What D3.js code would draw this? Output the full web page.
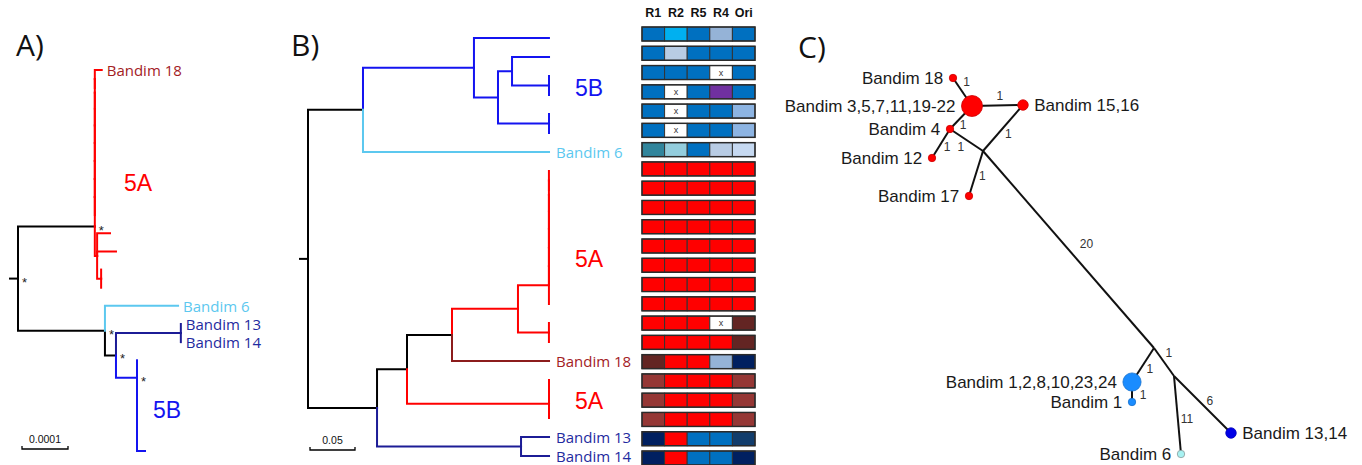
<!DOCTYPE html>
<html><head><meta charset="utf-8">
<script src="https://cdn.jsdelivr.net/npm/d3@7"></script>
<style>body{margin:0;background:#fff}svg{display:block}</style>
</head><body>
<svg id="c" width="1362" height="465"></svg>
<script>
// ================= DATA =================
// Panel A tree (branch lengths in substitutions/site); "*" = support, "k" = stem drawn uncoloured
const newickA = "(" + "(" +
  "((((((((Bandim_18:0.000015,r1:0):0,r2:0):0,r3:0):0,r4:0):0,r5:0):0,r6:0):0,r7:0):0,r8:0)" +
  ":0,(s1:0.000028,s2:0.000041,(s3:0,s4:0):0.0000087):0.000005)*k:0.000167," +
  "(Bandim_6:0.000159,((Bandim_13:0,Bandim_14:0):0.000141,(p1:0,(p2:0,(p3:0,(p4:0,(p5:0,p6:0.0000174):0):0):0):0)*:0.0000457)*:0.000024)*:0.000189" +
  ")*;";
// Panel B tree
const newickB = "(" +
  "((b1:0.0833,((b2:0.0411,(b3:0,b4:0):0.0411):0.0156,(b5:0,b6:0):0.0567):0.0267):0.1233,Bandim_6:0.2067):0.0611," +
  "((((" + "(((((((a1:0,a2:0):0,a3:0):0,a4:0):0,a5:0):0,a6:0):0,a7:0):0,a8:0)" +
  ":0.0344,(a9:0,a10:0):0.0344):0.0733,Bandim_18:0.1078):0.05,((a11:0,a12:0):0,a13:0):0.1578):0.0333," +
  "(Bandim_13:0.0311,Bandim_14:0.0311):0.16):0.0767" +
  ");";

const groupsA = {Bandim_18:"5A", r:"5A", s:"5A", Bandim_6:"b6", Bandim_13:"b1314", Bandim_14:"b1314", p:"5B"};
const groupsB = {a:"5A", b:"5B", Bandim_6:"b6", Bandim_18:"b18", Bandim_13:"b1314", Bandim_14:"b1314"};
const groupColors = {"5A":"#ff0000", "5B":"#1414f0", "b6":"#5cc8ef", "b18":"#8c1c1c", "b1314":"#1c1c96"};
const labelColors = {"Bandim 18":"#a3211f", "Bandim 6":"#5cc8ef", "Bandim 13":"#1f2ba0", "Bandim 14":"#1f2ba0"};

const cladeLabelsA = [["5A","Bandim_18","s4","5A"],["5B","p1","p6","5B"]];
const cladeLabelsB = [["5B","b1","b6","5B"],["5A","a1","a10","5A"],["5A","a11","a13","5A"]];

const scaleBarA = 0.0001;
const scaleBarB = 0.05;

// Panel B heatmap
const hmColumns = ["R1","R2","R5","R4","Ori"];
const hmRows = [
 "B C B L B",
 "B P B B B",
 "B B B X B",
 "B X B V B",
 "B X B B K",
 "B X B B K",
 "T A B S W",
 "R R R R R",
 "R R R R R",
 "R R R R R",
 "R R R R R",
 "R R R R R",
 "R R R R R",
 "R R R R R",
 "R R R R R",
 "R R R X D",
 "R R R R D",
 "D R R L N",
 "M R R R M",
 "M R R R M",
 "M R R R M",
 "N R B B O",
 "N R B B N"
];
const hmPalette = {B:"#0070c0", C:"#00b0f0", L:"#95b3d7", P:"#b8cce4", X:"#ffffff", V:"#7030a0",
  K:"#8db4e2", T:"#31859c", A:"#93cddd", S:"#b8cce4", W:"#c6d9f1", R:"#ff0000", D:"#632523",
  M:"#953735", N:"#002060", O:"#123d6c"};

// Panel C haplotype network (layout units)
const netNodes = [
 {id:"hub",   label:"Bandim 3,5,7,11,19-22", n:8, kind:"5A",  side:-1, u:53,     v:16.5},
 {id:"b18",   label:"Bandim 18",             n:1, kind:"5A",  side:-1, u:48.25,  v:9.5},
 {id:"b1516", label:"Bandim 15,16",          n:2, kind:"5A",  side:1,  u:65.75,  v:16.25},
 {id:"b4",    label:"Bandim 4",              n:1, kind:"5A",  side:-1, u:47.5,   v:22.25},
 {id:"b12",   label:"Bandim 12",             n:1, kind:"5A",  side:-1, u:43,     v:29.5},
 {id:"j1",    label:"",                      n:0, kind:"",    side:0,  u:55.75,  v:27.75},
 {id:"b17",   label:"Bandim 17",             n:1, kind:"5A",  side:-1, u:52.25,  v:39},
 {id:"j2",    label:"",                      n:0, kind:"",    side:0,  u:98.5,   v:77},
 {id:"j3",    label:"",                      n:0, kind:"",    side:0,  u:103.5,  v:84},
 {id:"b1x",   label:"Bandim 1,2,8,10,23,24", n:6, kind:"5B",  side:-1, u:93,     v:85.5},
 {id:"b1",    label:"Bandim 1",              n:1, kind:"5B",  side:-1, u:93,     v:90.5},
 {id:"b1314", label:"Bandim 13,14",          n:2, kind:"b1314", side:1, u:117.75, v:98.25},
 {id:"b6",    label:"Bandim 6",              n:1, kind:"b6",  side:-1, u:105.25, v:103.5}
];
// [from, to, mutations, label position along edge, side offset]
const netEdges = [
 ["hub","b18","1",0.67,9],
 ["hub","b1516","1",0.55,-9],
 ["hub","b4","1",0.63,-7],
 ["b4","b12","1",0.49,-7],
 ["b4","j1","1",0.48,9],
 ["b1516","j1","1",0.52,-8],
 ["j1","b17","1",0.52,-7],
 ["j1","j2","20",0.53,-17],
 ["j2","b1x","1",0.49,-8],
 ["b1x","b1","1",0.65,-11],
 ["j2","j3","1",0.37,-9],
 ["j3","b1314","6",0.53,-8],
 ["j3","b6","11",0.56,-9]
];
const netColors = {"5A":"#ff0000", "5B":"#1a8cff", "b1314":"#0000e6", "b6":"#a8f2f2"};

// ================= DRAWING =================
const svg = d3.select("#c");
const TREE_FONT = "'Open Sans', sans-serif";
const ARIAL = "'Liberation Sans', Arial, sans-serif";

function parseNewick(s){
  let i = 0;
  const stop = ":,();";
  function node(){
    const n = {children:[], name:"", len:0, support:""};
    if (s[i] === "("){
      i++;
      n.children.push(node());
      while (s[i] === ","){ i++; n.children.push(node()); }
      i++;
      let lab = ""; while (i < s.length && !stop.includes(s[i])) lab += s[i++];
      n.support = lab;
    } else {
      let nm = ""; while (i < s.length && !stop.includes(s[i])) nm += s[i++];
      n.name = nm;
    }
    if (s[i] === ":"){ i++; let num = ""; while (i < s.length && !",();".includes(s[i])) num += s[i++]; n.len = +num; }
    return n;
  }
  return node();
}

function layoutTree(str, groups){
  const root = d3.hierarchy(parseNewick(str), d => d.children.length ? d.children : null);
  root.eachBefore(n => { n.dist = n.parent ? n.parent.dist + n.data.len : 0; });
  let row = 0;
  root.eachAfter(n => {
    if (!n.children){
      n.row = row++;
      n.grp = groups[n.data.name] || groups[n.data.name[0]];
    } else {
      n.row = (n.children[0].row + n.children[n.children.length-1].row) / 2;
      const g0 = n.children[0].grp;
      n.grp = n.children.every(c => c.grp && c.grp === g0) ? g0 : null;
    }
    n.stemColor = (n.grp && !n.data.support.includes("k")) ? groupColors[n.grp] : "#000";
  });
  return root;
}

function drawTree(g, root, xs, ys, opts){
  const links = root.descendants().filter(n => n.parent);
  links.sort((a,b) => (a.stemColor === "#000" ? 0 : 1) - (b.stemColor === "#000" ? 0 : 1));
  g.selectAll("path.br").data(links).join("path").attr("class","br")
    .attr("d", n => `M${xs(n.parent.dist)},${ys(n.parent.row)}V${ys(n.row)}H${xs(n.dist)}`)
    .attr("fill","none")
    .attr("stroke", n => n.stemColor)
    .attr("stroke-width", 2).attr("stroke-linecap","square");
  g.append("path").attr("d", `M${xs(0)-9},${ys(root.row)}H${xs(0)}`)
    .attr("stroke","#000").attr("stroke-width",2);
  const leaves = root.leaves().filter(n => n.data.name.startsWith("Bandim"));
  g.selectAll("text.lf").data(leaves).join("text").attr("class","lf")
    .attr("x", n => xs(n.dist) + opts.labelGap).attr("y", n => ys(n.row))
    .attr("dominant-baseline","central")
    .attr("font-family", TREE_FONT).attr("font-size", 15)
    .attr("fill", n => labelColors[n.data.name.replace("_"," ")])
    .text(n => n.data.name.replace("_"," "));
  const sup = root.descendants().filter(n => n.data.support.includes("*"));
  g.selectAll("text.st").data(sup).join("text").attr("class","st")
    .attr("x", n => xs(n.dist) + 4).attr("y", n => ys(n.row) + 8)
    .attr("font-family", ARIAL).attr("font-size", 13).attr("fill","#222")
    .text("*");
  const all = root.leaves();
  opts.clades.forEach(([txt, from, to, grp]) => {
    const i0 = all.findIndex(n => n.data.name === from);
    const i1 = all.findIndex(n => n.data.name === to);
    if (i0 < 0 || i1 < 0) return;
    const seg = all.slice(i0, i1 + 1);
    const x = d3.max(seg, n => xs(n.dist)) + opts.cladeGap;
    const y = (ys(seg[0].row) + ys(seg[seg.length-1].row)) / 2 + opts.cladeDy;
    g.append("text").attr("x", x).attr("y", y).attr("dominant-baseline","central")
      .attr("font-family", ARIAL).attr("font-size", 23).attr("fill", groupColors[grp]).text(txt);
  });
  const sb = opts.scaleBar;
  const x0 = opts.sbX, x1 = x0 + (xs(sb) - xs(0));
  g.append("path").attr("d", `M${x0},${opts.sbY-3}V${opts.sbY}H${x1}V${opts.sbY-3}`)
    .attr("fill","none").attr("stroke","#000").attr("stroke-width",1.3);
  g.append("text").attr("x", (x0+x1)/2).attr("y", opts.sbY-6).attr("text-anchor","middle")
    .attr("font-family", ARIAL).attr("font-size", 10.5).attr("fill","#111").text(String(sb));
}

[["A)",16,56],["B)",291,56],["C)",798,58]].forEach(([t,x,y]) =>
  svg.append("text").attr("x",x).attr("y",y).attr("font-family",TREE_FONT)
     .attr("font-size",30).attr("fill","#111").text(t));

// ---- Panel A ----
const rootA = layoutTree(newickA, groupsA);
const xA = d3.scaleLinear().domain([0, scaleBarA]).range([18, 64]);
const yA = d3.scaleLinear().domain([0, rootA.leaves().length - 1]).range([70, 451]);
drawTree(svg.append("g"), rootA, xA, yA,
  {labelGap:5, clades:cladeLabelsA, cladeGap:8, cladeDy:4, scaleBar:scaleBarA, sbX:22, sbY:449});

// ---- Panel B ----
const rootB = layoutTree(newickB, groupsB);
const xB = d3.scaleLinear().domain([0, scaleBarB]).range([308, 353]);
const yB = d3.scaleLinear().domain([0, rootB.leaves().length - 1]).range([38, 456]);
drawTree(svg.append("g"), rootB, xB, yB,
  {labelGap:7, clades:cladeLabelsB, cladeGap:26, cladeDy:2, scaleBar:scaleBarB, sbX:310, sbY:450});

// ---- Heatmap ----
const hx = d3.scaleBand().domain(hmColumns).range([642, 755]);
const hy = d3.scaleLinear().domain([0, hmRows.length - 1]).range([34, 458]);
const hm = svg.append("g");
hm.selectAll("text.hd").data(hmColumns).join("text").attr("class","hd")
  .attr("x", c => hx(c) + hx.bandwidth()/2).attr("y", 17).attr("text-anchor","middle")
  .attr("font-family", ARIAL).attr("font-weight","bold").attr("font-size", 12.5).attr("fill","#111")
  .text(c => c);
const cells = [];
hmRows.forEach((r, i) => r.split(" ").forEach((k, j) => cells.push({i, c:hmColumns[j], k})));
hm.selectAll("rect.cell").data(cells).join("rect").attr("class","cell")
  .attr("x", d => hx(d.c)).attr("y", d => hy(d.i) - 7)
  .attr("width", hx.bandwidth()).attr("height", 14)
  .attr("fill", d => hmPalette[d.k]).attr("stroke", "#333").attr("stroke-width", 1);
hm.selectAll("rect.rowb").data(hmRows).join("rect").attr("class","rowb")
  .attr("x", hx.range()[0]).attr("y", (r,i) => hy(i) - 7)
  .attr("width", hx.range()[1]-hx.range()[0]).attr("height", 14)
  .attr("fill","none").attr("stroke","#2a2a2a").attr("stroke-width",1.4);
hm.selectAll("text.xm").data(cells.filter(d => d.k === "X")).join("text").attr("class","xm")
  .attr("x", d => hx(d.c) + hx.bandwidth()/2).attr("y", d => hy(d.i))
  .attr("text-anchor","middle").attr("dominant-baseline","central")
  .attr("font-family", ARIAL).attr("font-size", 9).attr("fill","#333").text("x");

// ---- Panel C network ----
const cu = d3.scaleLinear().domain([0, 100]).range([760, 1160]);
const cv = d3.scaleLinear().domain([0, 100]).range([40, 440]);
const rScale = d3.scaleSqrt().domain([0, 8]).range([0, 10.5]);
const byId = Object.fromEntries(netNodes.map(n => [n.id, n]));
const net = svg.append("g");
net.selectAll("line.ed").data(netEdges).join("line").attr("class","ed")
  .attr("x1", e => cu(byId[e[0]].u)).attr("y1", e => cv(byId[e[0]].v))
  .attr("x2", e => cu(byId[e[1]].u)).attr("y2", e => cv(byId[e[1]].v))
  .attr("stroke","#111").attr("stroke-width", 2);
net.selectAll("text.el").data(netEdges).join("text").attr("class","el")
  .each(function(e){
    const a = byId[e[0]], b = byId[e[1]];
    const ax = cu(a.u), ay = cv(a.v), bx = cu(b.u), by = cv(b.v);
    const dx = bx - ax, dy = by - ay, L = Math.hypot(dx, dy);
    const nx = -dy / L, ny = dx / L;
    d3.select(this).attr("x", ax + e[3]*dx + e[4]*nx).attr("y", ay + e[3]*dy + e[4]*ny);
  })
  .attr("text-anchor","middle").attr("dominant-baseline","central")
  .attr("font-family", ARIAL).attr("font-size", 12).attr("fill","#333").text(e => e[2]);
const haps = netNodes.filter(n => n.n > 0);
net.selectAll("circle.hp").data(haps).join("circle").attr("class","hp")
  .attr("cx", n => cu(n.u)).attr("cy", n => cv(n.v)).attr("r", n => rScale(n.n))
  .attr("fill", n => netColors[n.kind])
  .attr("stroke", n => n.kind === "b6" ? "#8a9a9a" : d3.color(netColors[n.kind]).darker(0.6))
  .attr("stroke-width", 0.8);
net.selectAll("text.nl").data(haps).join("text").attr("class","nl")
  .attr("x", n => cu(n.u) + n.side * (rScale(n.n) + 6)).attr("y", n => cv(n.v))
  .attr("text-anchor", n => n.side < 0 ? "end" : "start").attr("dominant-baseline","central")
  .attr("font-family", ARIAL).attr("font-size", 17).attr("fill","#1a1a1a").text(n => n.label);
</script>
</body></html>
